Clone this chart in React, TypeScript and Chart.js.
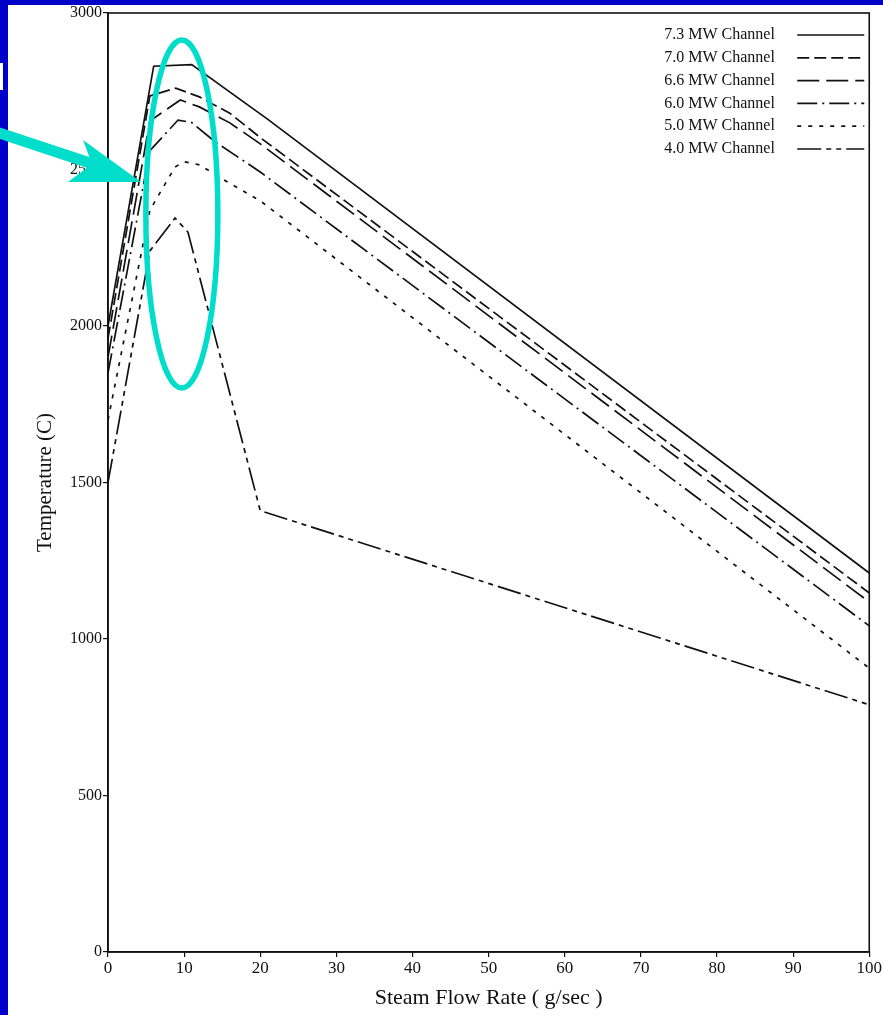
import React, { useEffect, useRef } from "react";
import { Chart, registerables } from "chart.js";

Chart.register(...registerables);

// ---- data ----
const seriesLabels = [
  "7.3 MW Channel",
  "7.0 MW Channel",
  "6.6 MW Channel",
  "6.0 MW Channel",
  "5.0 MW Channel",
  "4.0 MW Channel",
];

const flow73 = [0, 6, 11, 21, 100];
const temp73 = [2000, 2830, 2835, 2660, 1211];

const flow70 = [0, 5.5, 8.9, 12, 16, 20, 100];
const temp70 = [1960, 2735, 2760, 2732, 2680, 2602, 1147];

const flow66 = [0, 5.5, 9.5, 12, 16, 20, 100];
const temp66 = [1900, 2655, 2722, 2700, 2649, 2582, 1118];

const flow60 = [0, 5.5, 9.2, 11, 14, 20, 100];
const temp60 = [1850, 2560, 2658, 2650, 2590, 2492, 1042];

const flow50 = [0, 5.5, 8.8, 10, 12, 15.7, 20, 100];
const temp50 = [1700, 2370, 2508, 2525, 2515, 2460, 2400, 907];

const flow40 = [0, 5.5, 8.8, 10.5, 20, 100];
const temp40 = [1500, 2240, 2345, 2300, 1410, 790];

const seriesFlows = [flow73, flow70, flow66, flow60, flow50, flow40];
const seriesTemps = [temp73, temp70, temp66, temp60, temp50, temp40];

const dashPatterns: number[][] = [
  [],
  [12, 5],
  [22, 7],
  [20, 5, 2, 5],
  [4, 7],
  [24, 5, 5, 5, 5, 5],
];

const xMin = 0;
const xMax = 100;
const xStep = 10;
const yMin = 0;
const yMax = 3000;
const yStep = 500;

const SERIF = "'Liberation Serif', 'Times New Roman', 'DejaVu Serif', serif";
const INK = "#111111";
const CYAN = "#00DDCB";
const BLUE = "#0000C8";

const overlayPlugin = {
  id: "overlay",
  afterDraw(chart: any) {
    const { ctx, chartArea: a, scales } = chart;
    ctx.save();

    // plot frame
    ctx.strokeStyle = INK;
    ctx.lineWidth = 1.6;
    ctx.strokeRect(a.left, a.top, a.right - a.left, a.bottom - a.top);

    // legend (text then line sample)
    ctx.font = `16px ${SERIF}`;
    ctx.fillStyle = INK;
    ctx.textBaseline = "middle";
    ctx.textAlign = "left";
    chart.data.datasets.forEach((ds: any, i: number) => {
      const y = a.top + 22 + i * 22.8;
      ctx.fillText(ds.label, a.right - 205, y);
      ctx.beginPath();
      ctx.setLineDash(ds.borderDash || []);
      ctx.lineWidth = 1.7;
      ctx.strokeStyle = INK;
      ctx.moveTo(a.right - 72, y);
      ctx.lineTo(a.right - 5, y);
      ctx.stroke();
    });
    ctx.setLineDash([]);

    // cyan ellipse around the peaks
    const cx = scales.x.getPixelForValue(9.7);
    const cy = scales.y.getPixelForValue(2358);
    ctx.strokeStyle = CYAN;
    ctx.lineWidth = 5.5;
    ctx.beginPath();
    ctx.ellipse(cx, cy, 36, 174, 0, 0, Math.PI * 2);
    ctx.stroke();

    // cyan arrow coming from the left edge
    ctx.fillStyle = CYAN;
    ctx.strokeStyle = CYAN;
    ctx.lineWidth = 11;
    ctx.lineCap = "butt";
    ctx.beginPath();
    ctx.moveTo(-4, 132);
    ctx.lineTo(96, 165);
    ctx.stroke();
    ctx.beginPath();
    ctx.moveTo(141, 182);
    ctx.lineTo(83, 140);
    ctx.lineTo(92, 164);
    ctx.lineTo(68, 182);
    ctx.closePath();
    ctx.fill();

    ctx.restore();
  },
};

export default function App() {
  const canvasRef = useRef<HTMLCanvasElement | null>(null);

  useEffect(() => {
    if (!canvasRef.current) return;
    const datasets = seriesLabels.map((label, i) => ({
      label,
      data: seriesFlows[i].map((x, j) => ({ x, y: seriesTemps[i][j] })),
      borderColor: INK,
      backgroundColor: INK,
      borderWidth: 1.7,
      borderDash: dashPatterns[i],
      pointRadius: 0,
      tension: 0,
      fill: false,
    }));

    const chart = new Chart(canvasRef.current, {
      type: "line",
      data: { datasets },
      options: {
        animation: false,
        responsive: false,
        devicePixelRatio: 1,
        layout: { padding: { left: 0, top: 13, right: 13, bottom: 0 } },
        plugins: {
          legend: { display: false },
          tooltip: { enabled: false },
        },
        scales: {
          x: {
            type: "linear",
            min: xMin,
            max: xMax,
            ticks: {
              stepSize: xStep,
              color: INK,
              font: { family: SERIF, size: 17 },
              padding: 1,
              maxRotation: 0,
              callback: (v: any) => String(v),
            },
            grid: {
              display: true,
              drawOnChartArea: false,
              drawTicks: true,
              tickLength: 5,
              color: INK,
              lineWidth: 1.2,
            },
            border: { display: true, color: INK, width: 1.6 },
            title: {
              display: true,
              text: "Steam Flow Rate ( g/sec )",
              color: INK,
              font: { family: SERIF, size: 22 },
              padding: { top: 0, bottom: 4 },
            },
            afterFit: (s: any) => {
              s.height = 63;
            },
          },
          y: {
            type: "linear",
            min: yMin,
            max: yMax,
            ticks: {
              stepSize: yStep,
              color: INK,
              font: { family: SERIF, size: 16 },
              padding: 1,
              callback: (v: any) => String(v),
            },
            grid: {
              display: true,
              drawOnChartArea: false,
              drawTicks: true,
              tickLength: 5,
              color: INK,
              lineWidth: 1.2,
            },
            border: { display: true, color: INK, width: 1.6 },
            title: {
              display: true,
              text: "Temperature (C)",
              color: INK,
              font: { family: SERIF, size: 21 },
              padding: { top: 33, bottom: 0 },
            },
            afterFit: (s: any) => {
              s.width = 108;
            },
          },
        },
      },
      plugins: [overlayPlugin],
    } as any);

    return () => chart.destroy();
  }, []);

  return (
    <div
      style={{
        position: "fixed",
        left: 0,
        top: 0,
        width: 883,
        height: 1015,
        background: BLUE,
        overflow: "hidden",
      }}
    >
      <div
        style={{
          position: "absolute",
          left: 8,
          top: 5,
          right: 0,
          bottom: 0,
          background: "#ffffff",
        }}
      />
      <div
        style={{
          position: "absolute",
          left: 0,
          top: 63,
          width: 3,
          height: 27,
          background: "#ffffff",
        }}
      />
      <canvas
        ref={canvasRef}
        width={883}
        height={1015}
        style={{ position: "absolute", left: 0, top: 0, display: "block" }}
      />
    </div>
  );
}
